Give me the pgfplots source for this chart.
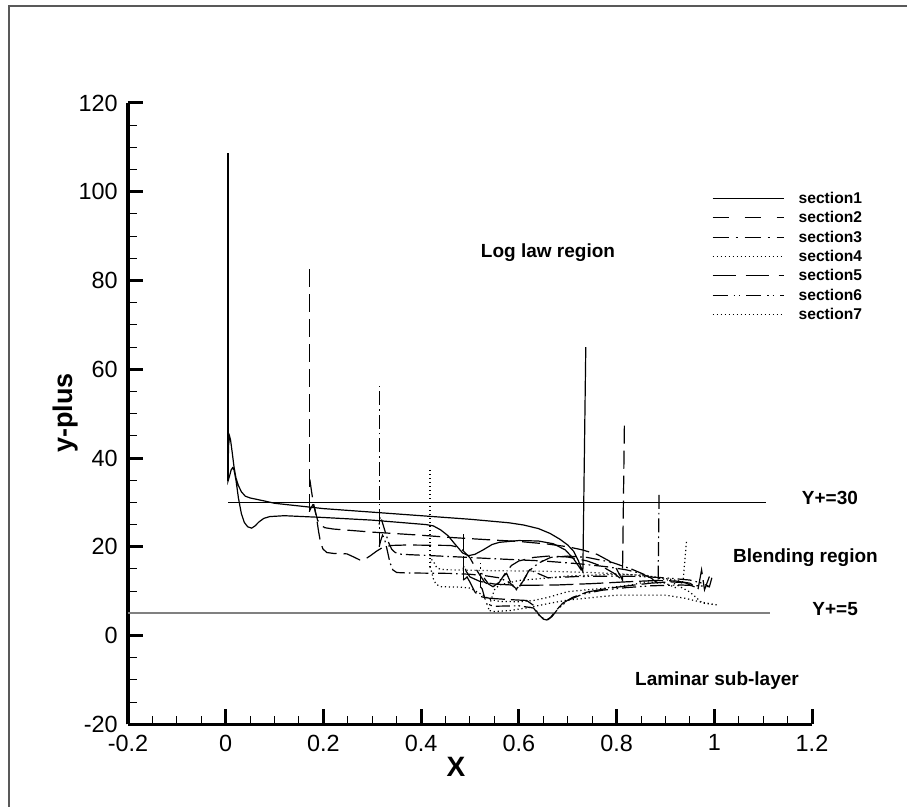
\documentclass[border=0pt]{standalone}
\usepackage{fontspec}
\setmainfont{Liberation Sans}
\usepackage{pgfplots}
\pgfplotsset{compat=1.18}
\begin{document}
\begin{tikzpicture}
\path[use as bounding box] (0pt,0pt) rectangle (453.5pt,403.5pt);
\draw[gray!70!black, line width=0.7pt] (4.5pt,0pt) -- (4.5pt,400.5pt) -- (453.5pt,400.5pt);
\begin{axis}[
  at={(64pt,41.35pt)}, anchor=south west, scale only axis,
  width=342pt, height=310.65pt,
  xmin=-0.2, xmax=1.2, ymin=-20, ymax=120,
  axis x line=bottom, axis y line=left,
  axis line style={-, line width=1.6pt, black},
  xtick={-0.2,0,0.2,0.4,0.6,0.8,1,1.2},
  xticklabels={-0.2,0,0.2,0.4,0.6,0.8,1,1.2},
  ytick={-20,0,20,40,60,80,100,120},
  yticklabels={-20,0,20,40,60,80,100,120},
  minor tick num=3, tick align=inside,
  major tick length=7.5pt, minor tick length=4.3pt,
  every major tick/.append style={line width=1.5pt, black},
  every minor tick/.append style={line width=0.5pt, black},
  ticklabel style={font=\fontsize{11.7}{13}\selectfont},
  yticklabel style={inner xsep=5pt},
  xticklabel style={inner ysep=5pt},
  clip=false,
  every axis plot/.append style={line width=0.6pt, black},
  legend image code/.code={\draw[#1] (0pt,0pt) -- (35.5pt,0pt);},
  legend cell align=left,
  legend style={at={(0.8538,0.858)}, anchor=north west, draw=none, fill=none,
    inner sep=0pt, outer sep=0pt, row sep=2.7pt,
    font=\fontsize{7.8}{9}\selectfont\bfseries,
    nodes={inner ysep=0pt, inner xsep=7.35pt, text height=6pt, text depth=1pt}},
]
% reference lines
\addplot[forget plot, black, line width=0.5pt] coordinates {(0.005,30) (1.105,30)};
\addplot[forget plot, gray, line width=0.9pt] coordinates {(-0.2,5) (1.115,5)};

% ---------- section1 (solid)
\addplot[forget plot] coordinates {(0.0047,34.8) (0.0047,108.7)};
\addplot[forget plot] coordinates {
(0.737,65) (0.731,14.4) (0.722,16.8) (0.712,19) (0.70,20.4) (0.684,21.7) (0.664,23) (0.64,24.1) (0.61,24.9) (0.58,25.4) (0.54,25.8) (0.50,26.2) (0.45,26.6) (0.40,27.0) (0.30,27.8) (0.20,28.6) (0.10,29.8) (0.08,30.3) (0.05,31) (0.04,31.4) (0.032,32.4) (0.026,33.8) (0.021,35.5) (0.017,38) (0.013,41.5) (0.010,44) (0.008,44.9) (0.006,43) (0.0047,38) (0.0047,34.8) (0.008,36) (0.011,37.3) (0.014,37.8) (0.017,37.3) (0.021,35) (0.026,31) (0.032,27.5) (0.038,25.5) (0.045,24.5) (0.053,24.2) (0.06,24.7) (0.068,25.6) (0.078,26.4) (0.09,26.8) (0.12,27) (0.2,26.6) (0.3,26) (0.377,25.3) (0.41,25) (0.425,24.7) (0.44,23.8) (0.455,22.5) (0.47,20.5) (0.485,18.6) (0.497,18) (0.51,18.3) (0.527,19.3) (0.545,20.5) (0.56,21) (0.6,21.4) (0.64,21.3) (0.67,20.7) (0.695,19.3) (0.712,17.3) (0.728,14.7)
};
% ---------- section2 (dashed)
\addplot[forget plot, dash pattern=on 9pt off 3.5pt] coordinates {(0.171,27.9) (0.171,83.1)};
\addplot[forget plot, dash pattern=on 9pt off 3.5pt] coordinates {
(0.816,47.3) (0.812,12.5) (0.80,15) (0.785,16.8) (0.76,18.3) (0.73,19.3) (0.70,20) (0.66,20.6) (0.60,21.2) (0.55,21.5) (0.46,22.1) (0.40,22.6) (0.30,23.3) (0.22,24) (0.203,24.3) (0.195,24.8) (0.188,26) (0.182,28.5) (0.177,31.5) (0.173,34.5) (0.171,36.2)
};
\addplot[forget plot, dash pattern=on 9pt off 3.5pt] coordinates {
(0.171,27.9) (0.174,28.6) (0.178,29.4) (0.182,28.8) (0.186,26.5) (0.19,23.5) (0.194,21) (0.199,19.5) (0.207,18.7) (0.221,18.5) (0.248,18.4) (0.262,17.7) (0.275,17.0) (0.285,17.2) (0.295,17.9) (0.31,19.1) (0.322,19.9) (0.34,20.3) (0.37,20.4) (0.46,20.3) (0.48,19.8) (0.50,17.5) (0.515,14.5) (0.53,12) (0.547,11) (0.56,12) (0.572,14) (0.585,15.8) (0.60,16.8) (0.63,17.6) (0.66,17.9) (0.70,17.7) (0.74,16.8) (0.77,15.6) (0.795,14) (0.812,12.5)
};
% ---------- section3 (dash-dot)
\addplot[forget plot, dash pattern=on 7pt off 2pt on 0.8pt off 2pt] coordinates {(0.314,20.0) (0.314,56.8)};
\addplot[forget plot, dash pattern=on 7pt off 2pt on 0.8pt off 2pt] coordinates {
(0.887,31.7) (0.885,11.8) (0.87,13) (0.85,14) (0.82,14.8) (0.78,15.5) (0.72,16.2) (0.65,16.8) (0.55,17.3) (0.46,17.8) (0.40,18.1) (0.36,18.3) (0.347,18.7) (0.34,19.4) (0.334,20.8) (0.328,22.8) (0.322,25) (0.318,26.5) (0.316,26.8) (0.314,25)
};
\addplot[forget plot, dash pattern=on 7pt off 2pt on 0.8pt off 2pt] coordinates {
(0.314,20.0) (0.317,21.3) (0.321,22.6) (0.325,21.8) (0.33,19.5) (0.336,16.5) (0.342,14.8) (0.35,14.2) (0.37,14.1) (0.46,14.0) (0.50,13.8) (0.53,13.5) (0.56,13) (0.58,12) (0.595,10.5) (0.607,12) (0.62,14.5) (0.64,16.3) (0.665,17.6) (0.70,17.9) (0.74,17.6) (0.79,16.5) (0.83,15) (0.86,13.6) (0.885,11.8)
};
% ---------- section4 (dotted)
\addplot[forget plot, dash pattern=on 0.6pt off 1.4pt] coordinates {(0.418,15.5) (0.418,37.7)};
\addplot[forget plot, dash pattern=on 0.6pt off 1.4pt] coordinates {
(0.943,21.1) (0.936,12.1) (0.91,12.7) (0.87,13.3) (0.82,13.8) (0.75,14.2) (0.65,14.5) (0.55,14.6) (0.46,14.8) (0.44,14.9) (0.432,15.3) (0.426,16.5) (0.421,17.2) (0.418,16)
};
\addplot[forget plot, dash pattern=on 0.6pt off 1.4pt] coordinates {
(0.418,15.5) (0.421,14.5) (0.425,12.8) (0.43,11.6) (0.44,11.0) (0.48,10.9) (0.50,10.7) (0.52,9.5) (0.54,8.2) (0.56,7.7) (0.60,7.6) (0.63,7.9) (0.66,8.6) (0.70,9.9) (0.77,10.6) (0.83,11.4) (0.86,12.1) (0.90,11.8) (0.92,10.8) (0.936,12.1)
};
% ---------- section5 (long dash)
\addplot[forget plot, dash pattern=on 12pt off 3pt] coordinates {(0.486,12.5) (0.486,22.8)};
\addplot[forget plot, dash pattern=on 12pt off 3pt] coordinates {
(0.99,13.3) (0.98,10.3) (0.974,14.8) (0.967,10.6) (0.95,11.8) (0.92,12.3) (0.88,12.4) (0.82,12.1) (0.75,11.7) (0.68,11.4) (0.60,11.3) (0.55,11.6) (0.52,12.2) (0.50,13.2) (0.492,14.5) (0.488,16) (0.486,15)
};
\addplot[forget plot, dash pattern=on 12pt off 3pt] coordinates {
(0.486,12.5) (0.49,12.8) (0.494,13.2) (0.50,12) (0.51,9.8) (0.52,8.8) (0.54,8.4) (0.58,8.1) (0.616,7.9) (0.63,6.8) (0.64,4.8) (0.65,3.7) (0.657,3.5) (0.665,4.1) (0.675,5.5) (0.69,7.3) (0.71,8.6) (0.74,9.8) (0.78,10.6) (0.83,11.3) (0.87,11.8) (0.91,12.1) (0.94,11.9) (0.967,10.6)
};
% ---------- section6 (dash-dot-dot)
\addplot[forget plot, dash pattern=on 7pt off 2pt on 0.8pt off 1.5pt on 0.8pt off 2pt] coordinates {(0.521,11) (0.521,16.3)};
\addplot[forget plot, dash pattern=on 7pt off 2pt on 0.8pt off 1.5pt on 0.8pt off 2pt] coordinates {
(0.995,13) (0.99,11) (0.975,11.8) (0.95,12.5) (0.90,13) (0.85,13.3) (0.80,13.4) (0.72,13.3) (0.66,13) (0.622,14.8) (0.61,12.5) (0.60,10.8) (0.595,10.3) (0.585,11.5) (0.575,14) (0.565,13) (0.555,11.3) (0.547,11) (0.538,11.6) (0.53,12.8) (0.524,14) (0.521,14.5)
};
\addplot[forget plot, dash pattern=on 7pt off 2pt on 0.8pt off 1.5pt on 0.8pt off 2pt] coordinates {
(0.521,11) (0.525,10.5) (0.53,8.5) (0.535,7) (0.55,6.6) (0.6,6.7) (0.63,6.2) (0.642,4.5) (0.652,3.7) (0.66,3.6) (0.668,4.3) (0.68,6) (0.70,7.9) (0.73,9.3) (0.77,10.2) (0.82,10.8) (0.87,11.2) (0.93,11.4) (0.97,11.2) (0.99,11)
};
% ---------- section7 (dotted)
\addplot[forget plot, dash pattern=on 0.6pt off 1.4pt] coordinates {
(1.005,6.9) (0.976,7.3) (0.95,9.8) (0.905,12.5) (0.86,13.6) (0.8,13.8) (0.7,13.4) (0.6,12.4) (0.56,11.4) (0.55,10.3) (0.543,8) (0.537,5.7) (0.55,5.4) (0.58,5.6) (0.62,6.3) (0.66,7.2) (0.7,8.0) (0.8,9.1) (0.9,9.1) (0.94,8.4) (0.97,7.6) (1.005,6.9)
};

% legend
\addlegendimage{black, line width=0.5pt}
\addlegendentry{section1}
\addlegendimage{black, line width=0.5pt, dash pattern=on 8pt off 8pt}
\addlegendentry{section2}
\addlegendimage{black, line width=0.5pt, dash pattern=on 8pt off 3.5pt on 1pt off 3.5pt}
\addlegendentry{section3}
\addlegendimage{black, line width=0.5pt, dash pattern=on 0.5pt off 1.5pt}
\addlegendentry{section4}
\addlegendimage{black, line width=0.5pt, dash pattern=on 11.5pt off 5pt}
\addlegendentry{section5}
\addlegendimage{black, line width=0.5pt, dash pattern=on 7.5pt off 3pt on 0.7pt off 2pt on 0.7pt off 3pt}
\addlegendentry{section6}
\addlegendimage{black, line width=0.5pt, dash pattern=on 0.5pt off 1.5pt}
\addlegendentry{section7}
\end{axis}
\begin{scope}[every node/.style={font=\fontsize{9.5}{11}\selectfont\bfseries, inner sep=0pt}]
\node at (274pt,277pt) {Log law region};
\node[anchor=east] at (429.15pt,154.65pt) {Y+=30};
\node at (402.75pt,124.65pt) {Blending region};
\node[anchor=east] at (429.15pt,98.85pt) {Y+=5};
\node at (358.5pt,63pt) {Laminar sub-layer};
\end{scope}
\node[font=\fontsize{14}{16}\selectfont\bfseries, inner sep=0pt] at (228pt,20pt) {X};
\node[font=\fontsize{13.5}{16}\selectfont\bfseries, inner sep=0pt, rotate=90] at (33pt,197pt) {y-plus};
\end{tikzpicture}
\end{document}
